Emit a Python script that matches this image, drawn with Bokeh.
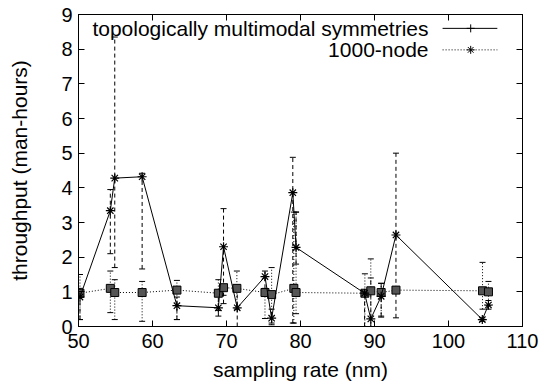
from bokeh.plotting import figure
from bokeh.models import ColumnDataSource, Whisker, TeeHead, LinearAxis, FixedTicker, Range1d, Label
from bokeh.embed import file_html
from bokeh.resources import INLINE

# Series 1: topologically multimodal symmetries
x1 = [50.2, 54.3, 54.9, 58.6, 63.3, 68.9, 69.6, 71.45, 75.2, 76.1, 78.96, 79.4, 88.66, 89.5, 90.9, 92.9, 104.57, 105.4]
y1 = [0.85, 3.34, 4.28, 4.32, 0.60, 0.54, 2.30, 0.54, 1.44, 0.24, 3.86, 2.28, 0.96, 0.22, 0.87, 2.64, 0.20, 0.62]
y1_hi = [1.1, 3.95, 8.35, 4.42, 0.85, 0.9, 3.4, 1.1, 1.6, 0.5, 4.88, 3.3, 0.96, 1.4, 1.25, 5.0, 0.25, 0.75]
y1_lo = [0.2, 2.1, 1.7, 1.66, 0.2, 0.3, 0.66, 0.0, 0.9, 0.1, 0.1, 1.8, 0.0, 0.0, 0.3, 0.25, 0.15, 0.5]

# Series 2: 1000-node
x2 = [50.2, 54.3, 54.9, 58.6, 63.3, 68.9, 69.6, 71.4, 75.2, 76.1, 79.1, 79.4, 88.7, 89.5, 90.9, 92.9, 104.6, 105.4]
y2 = [0.96, 1.10, 0.98, 0.98, 1.05, 0.96, 1.12, 1.10, 0.98, 0.92, 1.10, 0.98, 0.96, 1.03, 0.98, 1.05, 1.03, 1.00]
y2_hi = [1.5, 1.6, 1.35, 1.3, 1.33, 1.35, 1.2, 1.6, 1.1, 1.7, 3.3, 3.3, 1.52, 1.95, 1.24, 1.1, 1.85, 1.3]
y2_lo = [0.2, 0.4, 0.2, 0.15, 0.2, 0.46, 0.9, 0.5, 0.23, 0.05, 0.1, 0.37, 0.0, 0.0, 0.27, 1.0, 0.5, 0.6]

labels = ["topologically multimodal symmetries", "1000-node"]
x_ticks = [50, 60, 70, 80, 90, 100, 110]
y_ticks = [0, 1, 2, 3, 4, 5, 6, 7, 8, 9]

FONT = "Liberation Sans"
FS_TICK = "20px"
FS_LAB = "21px"

p = figure(width=544, height=389, x_range=Range1d(50, 110), y_range=Range1d(0, 9),
           output_backend="svg", toolbar_location=None,
           min_border_left=78, min_border_right=22, min_border_top=14, min_border_bottom=63)
p.background_fill_color = "white"
p.border_fill_color = "white"
p.outline_line_color = "black"
p.grid.visible = False

for ax in (p.xaxis[0], p.yaxis[0]):
    ax.major_tick_in = 6
    ax.major_tick_out = 0
    ax.minor_tick_line_color = None
    ax.axis_line_color = "black"
    ax.major_label_text_font = FONT
    ax.major_label_text_font_size = FS_TICK
    ax.major_label_text_color = "black"
    ax.axis_label_text_font = FONT
    ax.axis_label_text_font_size = FS_LAB
    ax.axis_label_text_font_style = "normal"
    ax.axis_label_text_color = "black"

p.xaxis.ticker = FixedTicker(ticks=x_ticks)
p.yaxis.ticker = FixedTicker(ticks=y_ticks)
p.xaxis.axis_label = "sampling rate (nm)"
p.yaxis.axis_label = "throughput (man-hours)"
p.xaxis.major_label_standoff = 7
p.xaxis.axis_label_standoff = 7
p.yaxis.major_label_standoff = 6
p.yaxis.axis_label_standoff = 27

# mirrored ticks (labels not drawn)
top = LinearAxis(ticker=FixedTicker(ticks=x_ticks), major_tick_in=6, major_tick_out=0,
                 minor_tick_line_color=None, major_label_text_font_size="1px",
                 major_label_text_color=None, major_label_standoff=0)
right = LinearAxis(ticker=FixedTicker(ticks=y_ticks), major_tick_in=6, major_tick_out=0,
                   minor_tick_line_color=None, major_label_text_font_size="1px",
                   major_label_text_color=None, major_label_standoff=0)
p.add_layout(top, "above")
p.add_layout(right, "right")

s1 = ColumnDataSource(dict(x=x1, y=y1, hi=y1_hi, lo=y1_lo))
s2 = ColumnDataSource(dict(x=x2, y=y2, hi=y2_hi, lo=y2_lo))

w2 = Whisker(source=s2, base="x", upper="hi", lower="lo", dimension="height",
             line_color="black", line_dash="1 2", line_width=1,
             upper_head=TeeHead(size=6, line_color="black", line_width=1),
             lower_head=TeeHead(size=6, line_color="black", line_width=1))
w1 = Whisker(source=s1, base="x", upper="hi", lower="lo", dimension="height",
             line_color="black", line_dash="4 3", line_width=1,
             upper_head=TeeHead(size=6, line_color="black", line_width=1),
             lower_head=TeeHead(size=6, line_color="black", line_width=1))
p.add_layout(w2)
p.add_layout(w1)

p.line("x", "y", source=s2, line_color="black", line_dash="1 2", line_width=1)
p.scatter("x", "y", source=s2, marker="square", size=8, fill_color="#555555", line_color="black")
p.line("x", "y", source=s1, line_color="black", line_width=1)
p.scatter("x", "y", source=s1, marker="asterisk", size=9, line_color="black", line_width=1.2)

# key (gnuplot style: text left, sample right)
key_text_x = 97.3
key_x0, key_x1, key_xm = 99.2, 106.6, 103.0
key_rows = [8.6, 7.98]
for lab, ky, dash, mk in zip(labels, key_rows, ["solid", "1 2"], ["cross", "asterisk"]):
    p.add_layout(Label(x=key_text_x, y=ky, text=lab, text_align="right", text_baseline="middle",
                       text_font=FONT, text_font_size=FS_LAB, text_color="black"))
    p.line([key_x0, key_x1], [ky, ky], line_color="black", line_dash=dash, line_width=1)
    p.scatter([key_xm], [ky], marker=mk, size=8, line_color="black")

open("out.html", "w").write(file_html(p, INLINE))
